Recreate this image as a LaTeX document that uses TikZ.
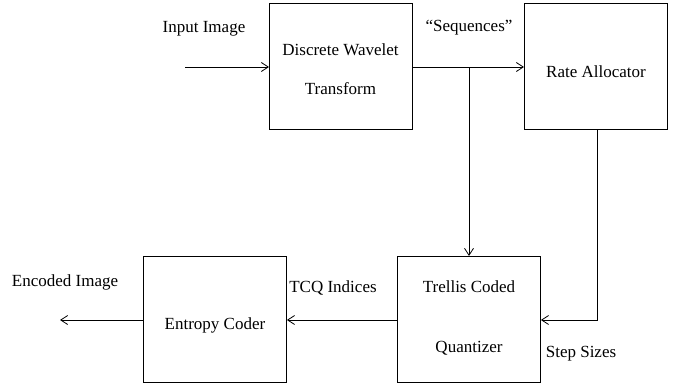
\documentclass[tikz,border=0pt]{standalone}
\usepackage{fontspec}
\setmainfont{Liberation Serif}
\usetikzlibrary{arrows.meta}
\begin{document}
\begin{tikzpicture}[x=1pt,y=-1pt,
  blk/.style={draw,line width=0.9pt,minimum width=143pt,minimum height=126pt,anchor=north west,inner sep=0pt,align=center},
  lbl/.style={font=\fontsize{17}{19}\selectfont},
  conn/.style={line width=0.8pt,-{Straight Barb[length=7pt,width=9pt,line width=0.8pt]}},
  plain/.style={line width=0.8pt}]
\useasboundingbox (0,0) rectangle (677,383);
\node[blk] (dwt) at (269,3) {};
\node[blk] (ra) at (524,3) {};
\node[blk] (tcq) at (397,256) {};
\node[blk] (ec) at (143,256) {};
\node[lbl] (t1) at (340.5,50) {Discrete Wavelet};
\node[lbl] (t2) at (340.5,89) {Transform};
\node[lbl] (t3) at (596,72) {Rate Allocator};
\node[lbl] (t4) at (469,287) {Trellis Coded};
\node[lbl] (t5) at (469,348) {Quantizer};
\node[lbl] (t6) at (215,325) {Entropy Coder};
\node[lbl] (inl) at (204,29) {Input Image};
\node[lbl] (seq) at (469,28) {``Sequences''};
\node[lbl] (tcql) at (333,288) {TCQ Indices};
\node[lbl] (encl) at (65,282) {Encoded Image};
\node[lbl] (stl) at (581,354) {Step Sizes};
\coordinate (inS) at (185,67);
\coordinate (outE) at (60,320);
\coordinate (br) at (469,67);
\coordinate (rc) at (597,129);
\coordinate (rcorner) at (597,320);
\draw[conn] (inS) -- (inS -| dwt.west);
\draw[conn] (inS -| dwt.east) -- (inS -| ra.west);
\draw[conn,line width=0.6pt] (br) -- (br |- tcq.north);
\draw[conn] (rc) -- (rcorner) -- (rcorner -| tcq.east);
\draw[conn] (rcorner -| tcq.west) -- (rcorner -| ec.east);
\draw[conn] (rcorner -| ec.west) -- (outE);
\end{tikzpicture}
\end{document}
